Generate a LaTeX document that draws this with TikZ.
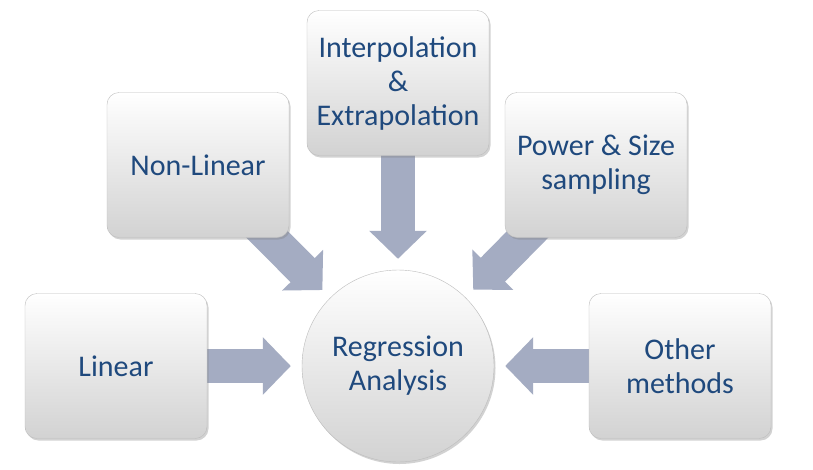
\documentclass[tikz,border=0pt]{standalone}
\usepackage{fontspec}
\setmainfont{Carlito}
\usetikzlibrary{arrows.meta,shadows,backgrounds}
\definecolor{ink}{HTML}{1F497D}
\definecolor{pipec}{HTML}{A4ACC2}
\definecolor{rim}{HTML}{BDBDBD}
\definecolor{base}{HTML}{D2D2D2}

\tikzset{
  method/.style={draw=rim,top color=white,bottom color=base,text=ink,rounded corners=12pt,minimum width=182pt,minimum height=145pt,align=center,font=\fontsize{30}{34}\selectfont,drop shadow={shadow xshift=1.5pt,shadow yshift=-2pt,opacity=.35}},
  hub/.style={method,circle,minimum size=192pt,rounded corners=0pt},
  pipe/.style={line width=34pt,pipec,-{Triangle[length=28pt,width=56pt]},shorten >=11pt}
}

\begin{document}
\begin{tikzpicture}[x=1pt,y=-1pt]
\useasboundingbox (0,0) rectangle (813,469);
\node[hub] (reg) at (398,366){Regression\\Analysis};
\node[method] (lin) at (116,366){Linear};
\node[method] (nonlin) at (198,165){Non-Linear};
\node[method] (interp) at (398,83){Interpolation\\\&\\Extrapolation};
\node[method] (power) at (596,165){Power \& Size\\sampling};
\node[method] (other) at (680,366){Other\\methods};
% arrows go under the boxes
\begin{pgfonlayer}{background}
\fill[white] (0,0) rectangle (813,469);
\draw[pipe] (lin.center)--(reg);\draw[pipe] (nonlin.center)--(reg);\draw[pipe] (interp.center)--(reg);
\draw[pipe] (power.center)--(reg);\draw[pipe] (other.center)--(reg);
\end{pgfonlayer}
\end{tikzpicture}
\end{document}
